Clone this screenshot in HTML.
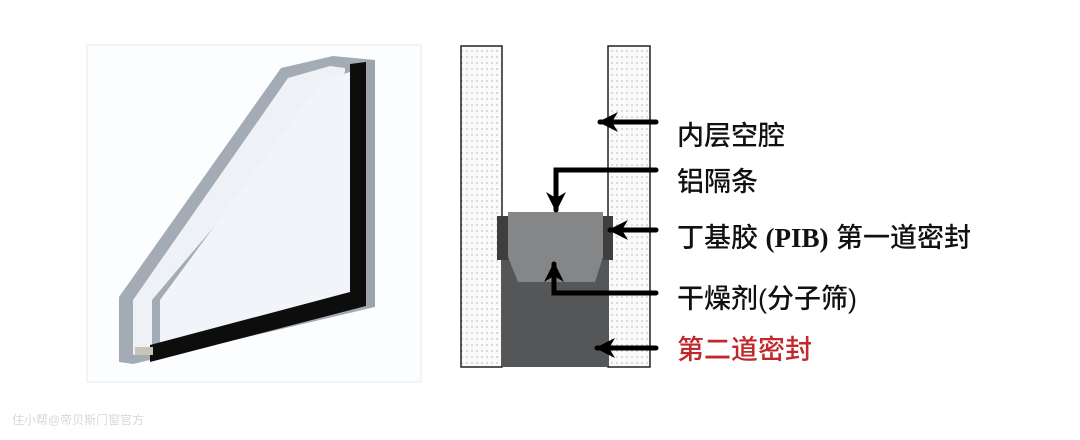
<!DOCTYPE html>
<html><head><meta charset="utf-8"><style>
html,body{margin:0;padding:0;background:#fff;width:1080px;height:440px;overflow:hidden}
svg{display:block}
</style></head><body>
<svg width="1080" height="440" viewBox="0 0 1080 440" xmlns="http://www.w3.org/2000/svg">
<defs>
<pattern id="dots" width="5" height="6" patternUnits="userSpaceOnUse">
<rect width="5" height="6" fill="#fafafa"/><circle cx="2" cy="3" r="0.7" fill="#aaa"/>
</pattern>
<marker id="ah" viewBox="0 0 10 10" refX="9" refY="5" markerWidth="4" markerHeight="4" orient="auto">
<path d="M0,0 L10,5 L0,10 L3,5 z" fill="#000"/>
</marker>
</defs>
<rect x="87" y="45" width="334" height="337" fill="#fcfdfe" stroke="#e6e9ec" stroke-width="1"/>
<!-- glass silhouette -->
<polygon points="119,362 119,297 281,68 333,56 375,60 375,307 133,364" fill="#a3abb4"/>
<!-- gap between panes (light) -->
<polygon points="133,355 133,300 288,78 330,66 345,68 345,72 152,300 152,352" fill="#eef1f5"/>
<!-- inner face -->
<polygon points="160,352 160,300 322,80 350,72 350,292 165,345" fill="#f1f4f8"/>
<!-- black spacer right -->
<polygon points="350,64 366,62 366,302 350,296" fill="#0d0d0d"/>
<!-- black spacer bottom -->
<polygon points="150,345 350,292 366,302 366,306 150,362" fill="#0d0d0d"/>
<polygon points="366,60 375,60 375,307 366,307" fill="#9ca4ad"/>
<rect x="135" y="347" width="18" height="8" fill="#c9c3b8"/>
<!-- right diagram -->
<rect x="461" y="46" width="41" height="321" fill="url(#dots)" stroke="#222" stroke-width="1.5"/>
<rect x="608" y="46" width="42" height="321" fill="url(#dots)" stroke="#222" stroke-width="1.5"/>
<rect x="503" y="257" width="105" height="110" fill="#555657"/>
<rect x="497" y="216" width="12" height="44" fill="#3e3e3e"/>
<rect x="602" y="216" width="11" height="44" fill="#3e3e3e"/>
<polygon points="508,212 603,212 603,257 595,282 518,282 508,257" fill="#858687"/>
<g stroke="#000" stroke-width="5" fill="none" stroke-linecap="round">
<line x1="656" y1="122" x2="600" y2="122" marker-end="url(#ah)"/>
<polyline points="656,170 556,170 556,210" marker-end="url(#ah)"/>
<line x1="656" y1="230" x2="610" y2="230" marker-end="url(#ah)"/>
<polyline points="656,293 554,293 554,264" marker-end="url(#ah)"/>
<line x1="656" y1="348" x2="597" y2="348" marker-end="url(#ah)"/>
</g>
<g font-family="'Liberation Sans','Noto Sans CJK SC',sans-serif" font-size="27" fill="#111" font-weight="500">
<text x="677" y="145">内层空腔</text>
<text x="677" y="191">铝隔条</text>
<text x="677" y="247">丁基胶 <tspan font-family="'Liberation Serif',serif" font-weight="bold">(PIB)</tspan> 第一道密封</text>
<text x="677" y="308">干燥剂(分子筛)</text>
<text x="677" y="359" fill="#c0282c">第二道密封</text>
</g>
<text x="12" y="424" font-family="'Liberation Sans','Noto Sans CJK SC',sans-serif" font-size="12" fill="#d8d8d8">住小帮@帝贝斯门窗官方</text>
</svg>
</body></html>
